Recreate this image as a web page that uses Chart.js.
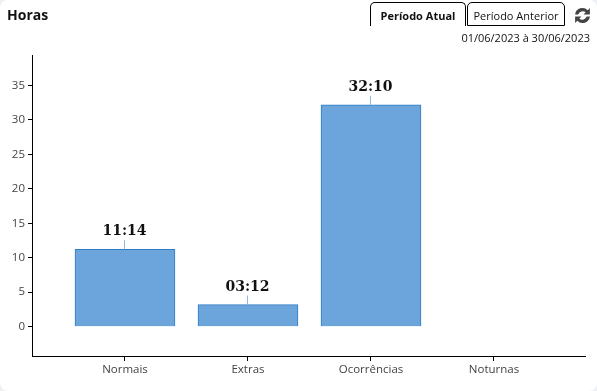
<!DOCTYPE html>
<html>
<head>
<meta charset="utf-8">
<script src="https://cdn.jsdelivr.net/npm/chart.js@4"></script>
<style>
    html, body { margin: 0; padding: 0; background: #eef0f4; }
    #card { position: absolute; left: 0; top: 0; width: 597px; height: 391px; background: #fff; border-radius: 8px; overflow: hidden; font-family: "Open Sans", "Noto Sans", sans-serif; }
    #canvas { position: absolute; left: 0; top: 0; }
    #title { position: absolute; left: 7px; top: 5px; font: bold 14px "Open Sans", sans-serif; color: #111; }
    .tab { position: absolute; top: 2px; height: 22px; line-height: 25px; text-align: center; font-size: 11px; color: #111; border: 1px solid #000; border-radius: 5px 5px 0 0; background: #fff; box-sizing: content-box; }
    #tab1 { left: 370px; width: 94px; border-bottom: none; height: 23px; font-weight: bold; }
    #tab2 { left: 467px; width: 96px; }
    #range { position: absolute; right: 7px; top: 30px; font-size: 11px; color: #111; }
    #refresh { position: absolute; left: 573px; top: 6px; }
</style>
</head>
<body>
<div id="card">
    <canvas id="canvas" width="597" height="391"></canvas>
    <div id="title">Horas</div>
    <div class="tab" id="tab1">Período Atual</div>
    <div class="tab" id="tab2">Período Anterior</div>
    <div id="range">01/06/2023 à 30/06/2023</div>
    <svg id="refresh" width="19" height="19" viewBox="0 0 18 18">
        <path d="M2 8 A7 7 0 0 1 14 4 L16 2 L16 8 L10 8 L12 6 A4.5 4.5 0 0 0 5 8 Z" fill="#444"/>
        <path d="M16 10 A7 7 0 0 1 4 14 L2 16 L2 10 L8 10 L6 12 A4.5 4.5 0 0 0 13 10 Z" fill="#444"/>
    </svg>
</div>
<script>
const categories = ['Normais', 'Extras', 'Ocorrências', 'Noturnas']
const hours = [11.23, 3.2, 32.17, 0]
const hourLabels = ['11:14', '03:12', '32:10', '']
const yTicks = [0, 5, 10, 15, 20, 25, 30, 35]

// small leader line + value above each bar
const valueLabels = {
    id: 'valueLabels',
    afterDatasetsDraw(chart) {
        const ctx = chart.ctx
        const x = chart.scales.x
        const y = chart.scales.y
        hours.forEach((value, index) => {
            if (!hourLabels[index]) return
            const px = x.getPixelForValue(index)
            const py = y.getPixelForValue(value)
            ctx.save()
            ctx.strokeStyle = '#8fb8e6'
            ctx.lineWidth = 1
            ctx.beginPath()
            ctx.moveTo(px - 0.5, py)
            ctx.lineTo(px - 0.5, py - 9)
            ctx.stroke()
            ctx.fillStyle = '#111'
            ctx.font = 'bold 14px "DejaVu Serif"'
            ctx.textAlign = 'center'
            ctx.textBaseline = 'alphabetic'
            ctx.fillText(hourLabels[index], px - 0.5, py - 14)
            ctx.restore()
        })
    }
}

new Chart(document.getElementById('canvas'), {
    type: 'bar',
    data: {
        datasets: [{
            data: hours.map((value, index) => ({ x: index, y: value })),
            backgroundColor: '#6ba5dc',
            borderColor: '#2f7cc4',
            borderWidth: 1,
            barThickness: 100
        }]
    },
    options: {
        responsive: false,
        animation: false,
        layout: { padding: { top: 55, right: 12, left: 0, bottom: 0 } },
        plugins: { legend: { display: false }, tooltip: { enabled: false } },
        scales: {
            x: {
                type: 'linear',
                offset: false,
                min: -0.756,
                max: 3.74,
                afterBuildTicks: (axis) => { axis.ticks = categories.map((c, i) => ({ value: i })) },
                afterFit: (axis) => { axis.height = 35 },
                border: { color: '#000', width: 1 },
                grid: { offset: false, drawOnChartArea: false, color: '#000', tickLength: 5 },
                ticks: {
                    autoSkip: false,
                    maxRotation: 0,
                    padding: 2,
                    color: '#444',
                    font: { family: '"Open Sans"', size: 11.5 },
                    callback: (value) => categories[value]
                }
            },
            y: {
                min: -4.25,
                max: 39.4,
                afterBuildTicks: (axis) => { axis.ticks = yTicks.map((v) => ({ value: v })) },
                afterFit: (axis) => { axis.width = 32 },
                border: { color: '#000', width: 1 },
                grid: { drawOnChartArea: false, color: '#000', tickLength: 4 },
                ticks: {
                    padding: 3,
                    color: '#444',
                    font: { family: '"Open Sans"', size: 11.5 },
                    callback: (value) => String(value)
                }
            }
        }
    },
    plugins: [valueLabels]
})
</script>
</body>
</html>
